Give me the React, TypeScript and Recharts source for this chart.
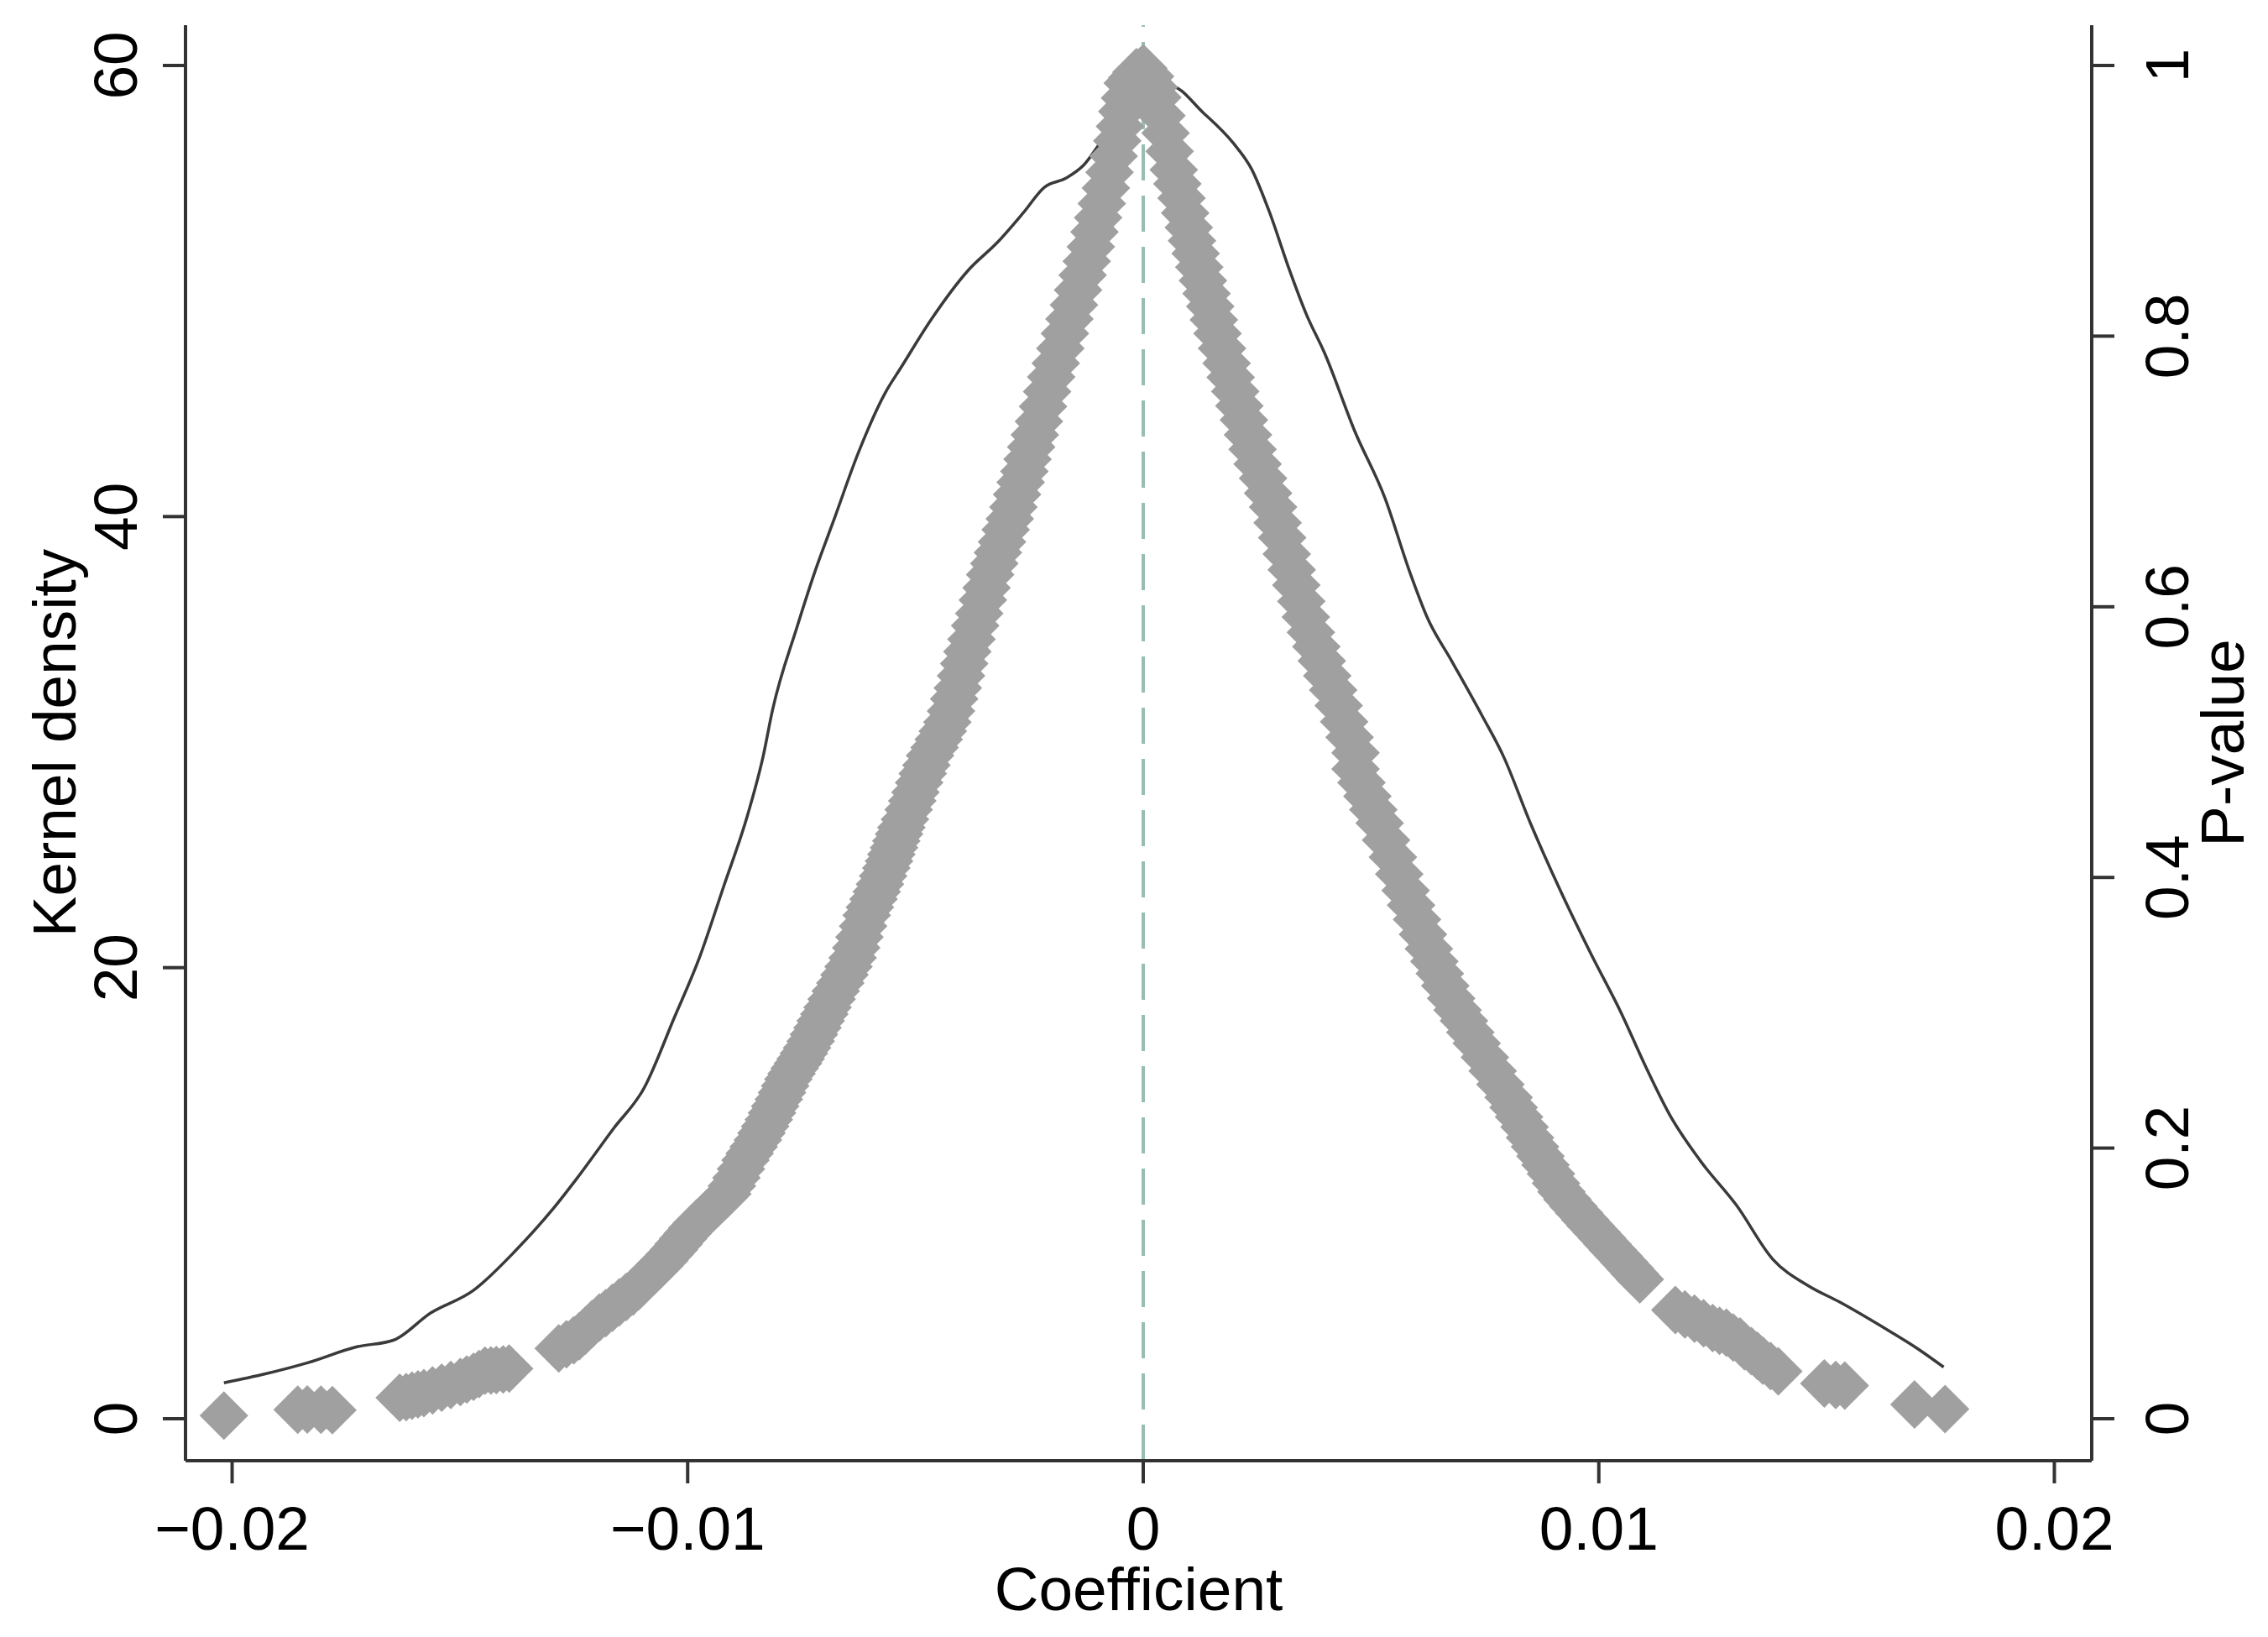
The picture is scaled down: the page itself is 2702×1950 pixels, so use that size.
import React from 'react';
import { ComposedChart, XAxis, YAxis, Line, Scatter, ReferenceLine } from 'recharts';

// Scatter: [coefficient, p-value] pairs
const leftTail: [number, number][] = [
  [-0.02018, 0.0023], [-0.01856, 0.0066], [-0.01835, 0.0068], [-0.01805, 0.0066], [-0.0178, 0.0064],
  [-0.01632, 0.0155], [-0.01618, 0.016], [-0.01605, 0.017], [-0.01592, 0.018], [-0.01579, 0.0189],
  [-0.0156, 0.021], [-0.0154, 0.023], [-0.0152, 0.025], [-0.01499, 0.0272], [-0.01485, 0.029],
  [-0.0147, 0.031], [-0.01458, 0.033], [-0.01445, 0.0355], [-0.01432, 0.0357], [-0.0142, 0.036],
  [-0.01405, 0.0365], [-0.01392, 0.0371],
];
const leftBand: [number, number][] = [
  [-0.01283, 0.052], [-0.01266, 0.055], [-0.0125, 0.058], [-0.01238, 0.061], [-0.01225, 0.065],
  [-0.0121, 0.07], [-0.01194, 0.0747], [-0.0118, 0.078], [-0.01165, 0.082], [-0.0115, 0.086],
  [-0.01135, 0.09], [-0.0112, 0.094], [-0.01107, 0.098], [-0.01096, 0.102], [-0.01085, 0.106],
  [-0.01073, 0.1095], [-0.01062, 0.113], [-0.01051, 0.117], [-0.0104, 0.1213], [-0.0103, 0.125],
  [-0.0102, 0.129], [-0.0101, 0.133], [-0.01, 0.137], [-0.0099, 0.141], [-0.0098, 0.1445],
  [-0.00968, 0.148], [-0.00957, 0.152], [-0.00946, 0.1555], [-0.00935, 0.159], [-0.00924, 0.1625],
  [-0.00913, 0.1661], [-0.00903, 0.172], [-0.00893, 0.178], [-0.00883, 0.1845], [-0.00873, 0.1911],
  [-0.00864, 0.196], [-0.00855, 0.201], [-0.00846, 0.206], [-0.00838, 0.211], [-0.0083, 0.216],
  [-0.00822, 0.221], [-0.00815, 0.226], [-0.00808, 0.231], [-0.008, 0.236], [-0.00793, 0.241],
  [-0.00786, 0.246], [-0.00779, 0.2509], [-0.00772, 0.255], [-0.00765, 0.259], [-0.00758, 0.2625],
  [-0.00752, 0.266], [-0.00745, 0.27], [-0.00738, 0.2741], [-0.0073, 0.279], [-0.00723, 0.284],
  [-0.00715, 0.289], [-0.00708, 0.294], [-0.007, 0.299], [-0.00693, 0.304], [-0.00684, 0.31],
  [-0.00675, 0.316], [-0.00665, 0.322], [-0.00656, 0.328], [-0.00647, 0.334], [-0.00638, 0.3406],
  [-0.0063, 0.348], [-0.00623, 0.356], [-0.00615, 0.364], [-0.00607, 0.3721], [-0.006, 0.378],
  [-0.00592, 0.384], [-0.00585, 0.3895], [-0.00578, 0.395], [-0.00571, 0.401], [-0.00564, 0.407],
  [-0.00558, 0.412], [-0.00553, 0.417], [-0.00547, 0.422], [-0.00542, 0.427], [-0.00536, 0.432],
  [-0.00531, 0.4369], [-0.00523, 0.443], [-0.00515, 0.45], [-0.00507, 0.4565], [-0.005, 0.463],
  [-0.00492, 0.47], [-0.00484, 0.4768], [-0.00476, 0.483], [-0.00468, 0.49], [-0.00458, 0.496],
  [-0.00449, 0.502], [-0.0044, 0.508], [-0.0043, 0.5147], [-0.00422, 0.523], [-0.00415, 0.532],
  [-0.00407, 0.54], [-0.004, 0.549], [-0.00393, 0.558], [-0.00386, 0.5669], [-0.00377, 0.576],
  [-0.00369, 0.586], [-0.0036, 0.595], [-0.00352, 0.605], [-0.00344, 0.614], [-0.00336, 0.6238],
  [-0.00327, 0.632], [-0.00319, 0.64], [-0.0031, 0.648], [-0.00302, 0.657], [-0.00293, 0.665],
  [-0.00285, 0.6737], [-0.00277, 0.683], [-0.00269, 0.692], [-0.00261, 0.7], [-0.00254, 0.709],
  [-0.00246, 0.718], [-0.00238, 0.7271], [-0.00229, 0.737], [-0.0022, 0.748], [-0.00211, 0.759],
  [-0.00202, 0.7698], [-0.00192, 0.78], [-0.00182, 0.791], [-0.00172, 0.802], [-0.00162, 0.8126],
  [-0.00152, 0.823], [-0.00143, 0.834], [-0.00133, 0.845], [-0.00124, 0.8553], [-0.00115, 0.866],
  [-0.00107, 0.877], [-0.00099, 0.8875], [-0.00091, 0.898], [-0.00082, 0.9095], [-0.00074, 0.921],
  [-0.00065, 0.933], [-0.00057, 0.9443], [-0.00051, 0.955], [-0.00046, 0.966], [-0.0004, 0.976],
  [-0.00034, 0.987], [-0.00024, 0.991], [-0.00015, 0.995], [0.0, 0.998],
];
const rightBand: [number, number][] = [
  [0.00015, 0.992], [0.00023, 0.984], [0.00031, 0.9764], [0.0004, 0.963], [0.00049, 0.95],
  [0.00058, 0.9365], [0.00067, 0.923], [0.00075, 0.9125], [0.00084, 0.902], [0.00092, 0.891],
  [0.001, 0.8802], [0.00107, 0.8705], [0.00115, 0.861], [0.00123, 0.851], [0.00131, 0.8411],
  [0.00139, 0.8315], [0.00147, 0.822], [0.00155, 0.812], [0.00163, 0.8019], [0.00173, 0.791],
  [0.00183, 0.78], [0.00192, 0.7695], [0.00202, 0.7592], [0.00211, 0.7485], [0.00221, 0.738],
  [0.0023, 0.727], [0.0024, 0.7164], [0.00251, 0.7055], [0.00263, 0.695], [0.00274, 0.684],
  [0.00285, 0.6737], [0.00295, 0.662], [0.00305, 0.651], [0.00315, 0.639], [0.00326, 0.6274],
  [0.00336, 0.616], [0.00347, 0.604], [0.00357, 0.5925], [0.00368, 0.5811], [0.0038, 0.5705],
  [0.00392, 0.56], [0.00404, 0.549], [0.00417, 0.5384], [0.00429, 0.527], [0.00441, 0.515],
  [0.00453, 0.5035], [0.00466, 0.4921], [0.00466, 0.4801], [0.00479, 0.47], [0.00492, 0.46],
  [0.00505, 0.45], [0.00519, 0.4402], [0.00533, 0.4275], [0.00548, 0.415], [0.00562, 0.4025],
  [0.00576, 0.3904], [0.00588, 0.3795], [0.00601, 0.369], [0.00614, 0.358], [0.00627, 0.3472],
  [0.00639, 0.338], [0.00651, 0.329], [0.00663, 0.32], [0.00676, 0.3106], [0.0069, 0.302],
  [0.00704, 0.294], [0.00718, 0.2855], [0.00732, 0.2774], [0.0075, 0.267], [0.00767, 0.257],
  [0.00784, 0.247], [0.00802, 0.2375], [0.00813, 0.23], [0.00825, 0.223], [0.00837, 0.2155],
  [0.00849, 0.2077], [0.0086, 0.201], [0.00872, 0.194], [0.00883, 0.1875], [0.00895, 0.181],
  [0.00906, 0.174], [0.00918, 0.1677], [0.00931, 0.162], [0.00944, 0.157], [0.00957, 0.152],
  [0.0097, 0.147], [0.00982, 0.1425], [0.00995, 0.1378], [0.01007, 0.1335], [0.01019, 0.129],
  [0.01031, 0.1245], [0.01044, 0.12], [0.01056, 0.1155], [0.01068, 0.1112], [0.01079, 0.107],
  [0.0109, 0.103],
];
const rightTail: [number, number][] = [
  [0.01168, 0.0803], [0.01189, 0.077], [0.0121, 0.074], [0.0123, 0.0705], [0.0125, 0.067],
  [0.01265, 0.065], [0.0128, 0.0636], [0.01295, 0.06], [0.0131, 0.057], [0.0132, 0.0535],
  [0.01335, 0.05], [0.01348, 0.0465], [0.0136, 0.043], [0.01377, 0.039], [0.01394, 0.035],
  [0.01495, 0.026], [0.0152, 0.025], [0.0154, 0.0245], [0.01693, 0.0105], [0.0176, 0.0071],
];

// Kernel density curve
const densX = [
  -0.02018, -0.01927, -0.01833, -0.01726, -0.01645, -0.01565, -0.01471, -0.01377, -0.01297, -0.01243,
  -0.01163, -0.01096, -0.01029, -0.00975, -0.00921, -0.00868, -0.00834, -0.00814, -0.0076, -0.0072,
  -0.0068, -0.00626, -0.00566, -0.00532, -0.00465, -0.00385, -0.00318, -0.00264, -0.00217, -0.0017,
  -0.0013, -0.0009, -0.0005, 0.0, 0.00059, 0.00132, 0.00198, 0.00238, 0.00278, 0.00318,
  0.00358, 0.00398, 0.00464, 0.00531, 0.00584, 0.00624, 0.00677, 0.00743, 0.0079, 0.0085,
  0.00916, 0.00983, 0.01049, 0.01102, 0.01156, 0.01222, 0.01302, 0.01382, 0.01461, 0.01528,
  0.01621, 0.01701, 0.01757,
];
const densY = [
  1.59, 1.99, 2.49, 3.19, 3.49, 4.68, 5.68, 7.47, 9.27, 10.66,
  12.86, 14.65, 17.8, 20.4, 23.6, 26.8, 29.4, 31.4, 35.1, 37.6,
  39.8, 42.8, 45.5, 46.6, 48.75, 50.9, 52.2, 53.45, 54.6, 55.0,
  55.6, 56.7, 57.8, 58.8, 59.1, 57.9, 56.55, 55.4, 53.45, 51.1,
  48.97, 47.25, 43.8, 40.8, 37.6, 35.5, 33.6, 31.2, 29.4, 26.4,
  23.4, 20.6, 18.0, 15.65, 13.46, 11.46, 9.47, 7.07, 5.88, 5.18,
  4.09, 3.09, 2.29,
];

const xTicks = [-0.02, -0.01, 0, 0.01, 0.02];
const leftTicks = [0, 20, 40, 60];
const rightTicks = [0, 0.2, 0.4, 0.6, 0.8, 1];

const scatterData = [...leftTail, ...leftBand, ...rightBand, ...rightTail].map(([x, p]) => ({ x, p }));
const densityData = densX.map((x, i) => ({ x, d: densY[i] }));

const FONT = "'Liberation Sans', Arial, sans-serif";
const FS = 73;
const AXIS = '#333333';

const fmt = (v: number) => {
  const s = String(Math.round(Math.abs(v) * 10000) / 10000);
  return v < 0 ? '\u2212' + s : s;
};

const XTick = (props: any) => {
  const { x, payload } = props;
  return (
    <text x={x} y={1846} textAnchor="middle" fontSize={FS} fontFamily={FONT} fill="#000">
      {fmt(payload.value)}
    </text>
  );
};

const LeftTick = (props: any) => {
  const { y, payload } = props;
  const bx = 163;
  return (
    <text x={bx} y={y} transform={`rotate(-90, ${bx}, ${y})`} textAnchor="middle" fontSize={FS} fontFamily={FONT} fill="#000">
      {fmt(payload.value)}
    </text>
  );
};

const RightTick = (props: any) => {
  const { y, payload } = props;
  const bx = 2607;
  return (
    <text x={bx} y={y} transform={`rotate(-90, ${bx}, ${y})`} textAnchor="middle" fontSize={FS} fontFamily={FONT} fill="#000">
      {fmt(payload.value)}
    </text>
  );
};

const Diamond = (props: any) => {
  const { cx, cy } = props;
  if (cx == null || cy == null) return null;
  const r = 29;
  return (
    <polygon
      points={`${cx},${cy - r} ${cx + r},${cy} ${cx},${cy + r} ${cx - r},${cy}`}
      fill="#a0a0a0"
    />
  );
};

export default function App() {
  return (
    <div style={{ position: 'absolute', left: 0, top: 0, background: '#fff' }}>
      <ComposedChart
        width={2702}
        height={1950}
        margin={{ top: 30, right: 0, bottom: 0, left: 0 }}
      >
        <XAxis
          dataKey="x"
          type="number"
          domain={[-0.021023, 0.02082]}
          allowDataOverflow
          ticks={xTicks}
          tick={<XTick />}
          tickSize={27}
          tickLine={{ stroke: AXIS, strokeWidth: 4 }}
          axisLine={{ stroke: AXIS, strokeWidth: 4 }}
          height={210}
          interval={0}
          label={() => (
            <text x={1356.5} y={1918} textAnchor="middle" fontSize={FS} fontFamily={FONT} fill="#000">
              Coefficient
            </text>
          )}
        />
        <YAxis
          yAxisId="left"
          type="number"
          domain={[-1.861, 61.787]}
          allowDataOverflow
          ticks={leftTicks}
          tick={<LeftTick />}
          tickSize={27}
          tickLine={{ stroke: AXIS, strokeWidth: 4 }}
          axisLine={{ stroke: AXIS, strokeWidth: 4 }}
          width={221}
          interval={0}
          label={() => (
            <text x={90} y={885} transform="rotate(-90, 90, 885)" textAnchor="middle" fontSize={FS} fontFamily={FONT} fill="#000">
              Kernel density
            </text>
          )}
        />
        <YAxis
          yAxisId="right"
          orientation="right"
          type="number"
          domain={[-0.03102, 1.02978]}
          allowDataOverflow
          ticks={rightTicks}
          tick={<RightTick />}
          tickSize={27}
          tickLine={{ stroke: AXIS, strokeWidth: 4 }}
          axisLine={{ stroke: AXIS, strokeWidth: 4 }}
          width={210}
          interval={0}
          label={() => (
            <text x={2673} y={885} transform="rotate(-90, 2673, 885)" textAnchor="middle" fontSize={FS} fontFamily={FONT} fill="#000">
              P-value
            </text>
          )}
        />
        <ReferenceLine x={0} yAxisId="left" stroke="#9abdb3" strokeWidth={4} strokeDasharray="43 18" />
        <Line
          data={densityData}
          dataKey="d"
          yAxisId="left"
          type="monotone"
          stroke="#3a3a3a"
          strokeWidth={3.5}
          dot={false}
          activeDot={false}
          isAnimationActive={false}
        />
        <Scatter
          data={scatterData}
          dataKey="p"
          yAxisId="right"
          shape={<Diamond />}
          isAnimationActive={false}
        />
      </ComposedChart>
    </div>
  );
}
